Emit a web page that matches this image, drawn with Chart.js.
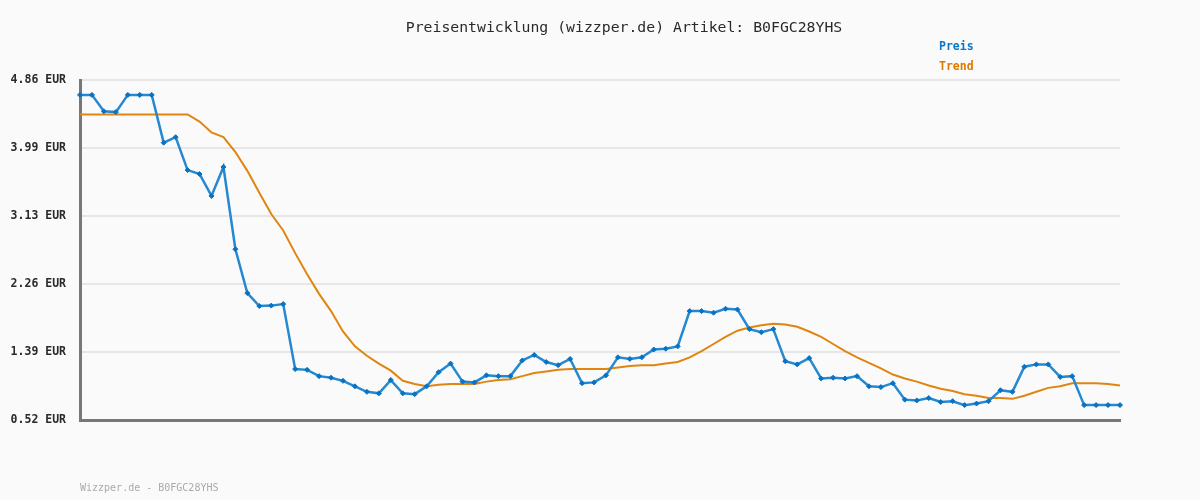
<!DOCTYPE html>
<html>
<head>
<meta charset="utf-8">
<script src="https://cdn.jsdelivr.net/npm/chart.js@4"></script>
<style>
    html, body { margin: 0; padding: 0; background: #fafafa; }
    #wrap { width: 1200px; height: 500px; position: relative; }
</style>
</head>
<body>
<div id="wrap"><canvas id="priceChart" width="1200" height="500"></canvas></div>
<script>
// Werte
const preis = [
    4.67, 4.67, 4.46, 4.45, 4.67, 4.67, 4.67, 4.06, 4.13, 3.71,
    3.66, 3.38, 3.75, 2.70, 2.14, 1.975, 1.98, 2.00, 1.17, 1.16,
    1.08, 1.06, 1.02, 0.95, 0.88, 0.86, 1.03, 0.86, 0.85, 0.95,
    1.13, 1.24, 1.01, 1.00, 1.09, 1.08, 1.08, 1.28, 1.35, 1.26,
    1.22, 1.30, 0.99, 1.00, 1.09, 1.32, 1.30, 1.32, 1.42, 1.43,
    1.46, 1.91, 1.91, 1.89, 1.94, 1.93, 1.68, 1.64, 1.68, 1.27,
    1.23, 1.31, 1.05, 1.06, 1.05, 1.08, 0.95, 0.94, 0.99, 0.78,
    0.77, 0.80, 0.75, 0.76, 0.71, 0.73, 0.76, 0.90, 0.88, 1.20,
    1.23, 1.23, 1.07, 1.08, 0.71, 0.71, 0.71, 0.71
];
const trend = [
    4.42, 4.42, 4.42, 4.42, 4.42, 4.42, 4.42, 4.42, 4.42, 4.42,
    4.33, 4.19, 4.13, 3.94, 3.70, 3.42, 3.15, 2.94, 2.65, 2.38,
    2.13, 1.91, 1.65, 1.46, 1.34, 1.24, 1.15, 1.02, 0.98, 0.95,
    0.97, 0.98, 0.98, 0.98, 1.01, 1.03, 1.04, 1.08, 1.12, 1.14,
    1.16, 1.17, 1.17, 1.17, 1.17, 1.19, 1.21, 1.22, 1.22, 1.24,
    1.26, 1.32, 1.40, 1.49, 1.58, 1.66, 1.70, 1.73, 1.75, 1.74,
    1.71, 1.65, 1.58, 1.49, 1.40, 1.32, 1.25, 1.18, 1.10, 1.05,
    1.01, 0.96, 0.92, 0.89, 0.85, 0.83, 0.80, 0.80, 0.79, 0.83,
    0.88, 0.93, 0.95, 0.99, 0.99, 0.99, 0.98, 0.96
];
const yTicks = [0.52, 1.39, 2.26, 3.13, 3.99, 4.86];
const labels = preis.map((_, i) => String(i + 1));

const titleText = 'Preisentwicklung (wizzper.de) Artikel: B0FGC28YHS';
const footerText = 'Wizzper.de - B0FGC28YHS';
const mono = '"DejaVu Sans Mono", "Liberation Mono", monospace';

// Titel, Legende und Fußzeile direkt auf die Leinwand schreiben
const textPlugin = {
    id: 'texts',
    afterDraw(chart) {
        const ctx = chart.ctx;
        ctx.save();
        ctx.textBaseline = 'middle';
        ctx.font = '14.8px ' + mono;
        ctx.fillStyle = '#2a2a2a';
        ctx.textAlign = 'center';
        ctx.fillText(titleText, 624, 28);

        ctx.textAlign = 'left';
        ctx.font = 'bold 11.5px ' + mono;
        ctx.fillStyle = '#0a77c8';
        ctx.fillText('Preis', 939, 47);
        ctx.fillStyle = '#dc7a00';
        ctx.fillText('Trend', 939, 67);

        ctx.font = '10px ' + mono;
        ctx.fillStyle = '#aaaaaa';
        ctx.fillText(footerText, 80, 488);
        ctx.restore();
    }
};

const ctx = document.getElementById('priceChart').getContext('2d');
new Chart(ctx, {
    type: 'line',
    data: {
        labels: labels,
        datasets: [
            {
                label: 'Trend',
                data: trend,
                borderColor: '#e0850f',
                borderWidth: 2,
                pointRadius: 0,
                tension: 0,
                order: 2
            },
            {
                label: 'Preis',
                data: preis,
                borderColor: '#2589d1',
                borderWidth: 2.5,
                pointRadius: 0,
                tension: 0,
                order: 1
            },
            {
                label: 'Marker',
                data: preis,
                showLine: false,
                pointStyle: 'rectRot',
                pointRadius: 2.5,
                pointBorderWidth: 1,
                pointBorderColor: '#0a72c2',
                pointBackgroundColor: '#0a72c2',
                order: 0
            }
        ]
    },
    options: {
        responsive: false,
        animation: false,
        events: [],
        layout: { padding: { left: 0, right: 80, top: 80, bottom: 80 } },
        plugins: {
            legend: { display: false },
            title: { display: false },
            tooltip: { enabled: false }
        },
        scales: {
            x: {
                type: 'category',
                offset: false,
                ticks: { display: false },
                grid: { display: false, drawTicks: false },
                border: { display: true, color: '#777777', width: 3 },
                afterFit(scale) { scale.height = 0; }
            },
            y: {
                min: 0.52,
                max: 4.86,
                afterBuildTicks(scale) {
                    scale.ticks = yTicks.map(v => ({ value: v }));
                },
                ticks: {
                    padding: 14,
                    color: '#2a2a2a',
                    font: { family: mono, size: 11.5, weight: 'bold' },
                    callback: v => v.toFixed(2) + ' EUR'
                },
                grid: { color: '#e6e6e6', lineWidth: 2, drawTicks: false },
                border: { display: true, color: '#777777', width: 3 },
                afterFit(scale) { scale.width = 80; }
            }
        }
    },
    plugins: [textPlugin]
});
</script>
</body>
</html>
